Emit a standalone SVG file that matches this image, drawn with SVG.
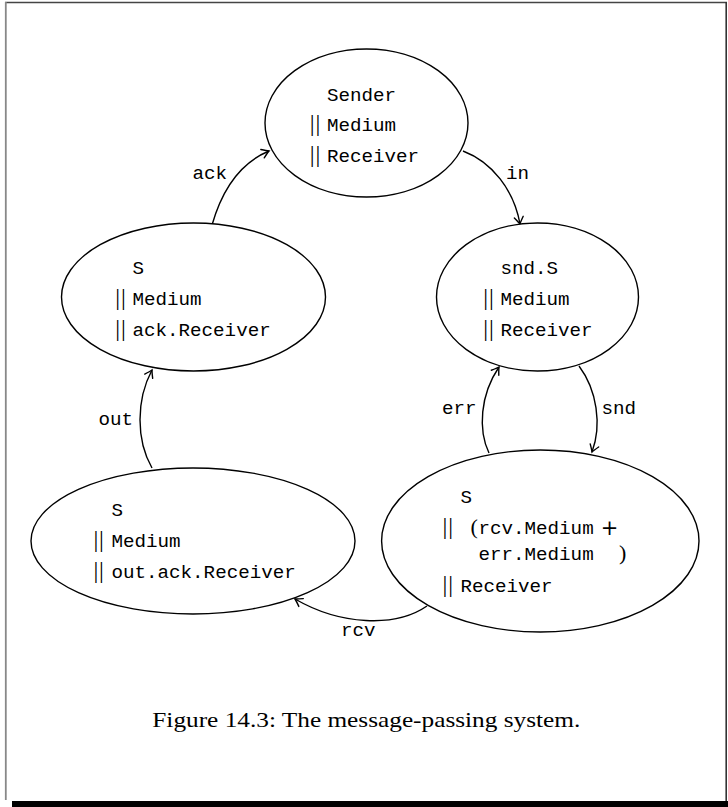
<svg xmlns="http://www.w3.org/2000/svg" width="728" height="807" viewBox="0 0 728 807">
<defs>
<style>
.node{fill:#fff;stroke:#000;stroke-width:1.4}
.tt{font-family:"Liberation Mono","DejaVu Sans Mono",monospace;font-size:19.2px;fill:#000}
.bar{font-family:"Liberation Serif","DejaVu Serif",serif;font-size:24px;fill:#000;text-anchor:middle;letter-spacing:0.8px}
.par{font-family:"DejaVu Sans","Noto Sans",sans-serif;font-size:21px;fill:#000;text-anchor:middle}
.math{font-family:"Liberation Serif","DejaVu Serif",serif;font-size:22px;fill:#000;text-anchor:middle}
.edge{fill:none;stroke:#000;stroke-width:1.4;marker-end:url(#arr)}
.cap{font-family:"Liberation Serif","DejaVu Serif",serif;font-size:21px;fill:#000}
</style>
<marker id="arr" markerUnits="userSpaceOnUse" markerWidth="14" markerHeight="14" viewBox="-10 -7 14 14" refX="0" refY="0" orient="auto">
<path d="M -7 -4.5 Q -2 -1 0 0 Q -2 1 -7 4.5" fill="none" stroke="#000" stroke-width="1.4" stroke-linecap="round"/>
</marker>
</defs>
<rect x="0" y="0" width="728" height="807" fill="#fff"/>
<g id="frame">
<line x1="5" y1="2.5" x2="727" y2="2.5" stroke="#444" stroke-width="1.5"/>
<line x1="5.8" y1="2" x2="5.8" y2="800" stroke="#888" stroke-width="1.8"/>
<line x1="726.2" y1="2" x2="726.2" y2="801" stroke="#333" stroke-width="1.6"/>
<rect x="12" y="801" width="716" height="6" fill="#000"/>
</g>
<g id="connectors">
<path id="e-ack" class="edge" d="M 212 225 C 222 190, 240 163, 269 151"/>
<path id="e-in" class="edge" d="M 463 151 C 492 162, 514 190, 520 224"/>
<path id="e-snd" class="edge" d="M 579 366 C 597 390, 602 425, 592 452"/>
<path id="e-err" class="edge" d="M 489 453 C 478 430, 480 395, 499 367"/>
<path id="e-out" class="edge" d="M 152 468 C 136 440, 136 400, 152 370"/>
<path id="e-rcv" class="edge" d="M 427 606 C 395 628, 340 625, 295 599"/>
<text class="tt" x="192.5" y="178.5">ack</text>
<text class="tt" x="506" y="178.5">in</text>
<text class="tt" x="601.5" y="413.5">snd</text>
<text class="tt" x="442" y="413.5">err</text>
<text class="tt" x="98.5" y="425">out</text>
<text class="tt" x="341" y="636">rcv</text>
</g>
<g id="n-sender">
<ellipse class="node" cx="366.5" cy="123" rx="101.5" ry="74"/>
<text class="tt" x="327" y="100.7">Sender</text>
<text class="bar" x="315.4" y="131">||</text>
<text class="tt" x="327" y="131">Medium</text>
<text class="bar" x="315.4" y="162">||</text>
<text class="tt" x="327" y="162">Receiver</text>
</g>
<g id="n-ack">
<ellipse class="node" cx="193.5" cy="297" rx="132" ry="74"/>
<text class="tt" x="132.5" y="274">S</text>
<text class="bar" x="120.9" y="305">||</text>
<text class="tt" x="132.5" y="305">Medium</text>
<text class="bar" x="120.9" y="336">||</text>
<text class="tt" x="132.5" y="336">ack.Receiver</text>
</g>
<g id="n-snd">
<ellipse class="node" cx="537.5" cy="297" rx="101" ry="74"/>
<text class="tt" x="500.5" y="274">snd.S</text>
<text class="bar" x="488.9" y="305">||</text>
<text class="tt" x="500.5" y="305">Medium</text>
<text class="bar" x="488.9" y="336">||</text>
<text class="tt" x="500.5" y="336">Receiver</text>
</g>
<g id="n-out">
<ellipse class="node" cx="193" cy="541" rx="162" ry="73"/>
<text class="tt" x="111.5" y="516">S</text>
<text class="bar" x="99.1" y="547.3">||</text>
<text class="tt" x="111.5" y="547.3">Medium</text>
<text class="bar" x="99.1" y="578.3">||</text>
<text class="tt" x="111.5" y="578.3">out.ack.Receiver</text>
</g>
<g id="n-rcv">
<ellipse class="node" cx="540.3" cy="541" rx="158.7" ry="91"/>
<text class="tt" x="460.5" y="503.3">S</text>
<text class="bar" x="448.2" y="534">||</text>
<text class="math" x="474.2" y="534">(</text>
<text class="tt" x="478.5" y="534">rcv.Medium</text>
<text class="par" x="609.5" y="535">+</text>
<text class="tt" x="478.5" y="560">err.Medium</text>
<text class="math" x="622.7" y="560">)</text>
<text class="bar" x="448.2" y="591.7">||</text>
<text class="tt" x="460.5" y="591.7">Receiver</text>
</g>
<text id="caption" class="cap" x="152.3" y="727.3" textLength="428" lengthAdjust="spacingAndGlyphs">Figure 14.3: The message-passing system.</text>
</svg>
